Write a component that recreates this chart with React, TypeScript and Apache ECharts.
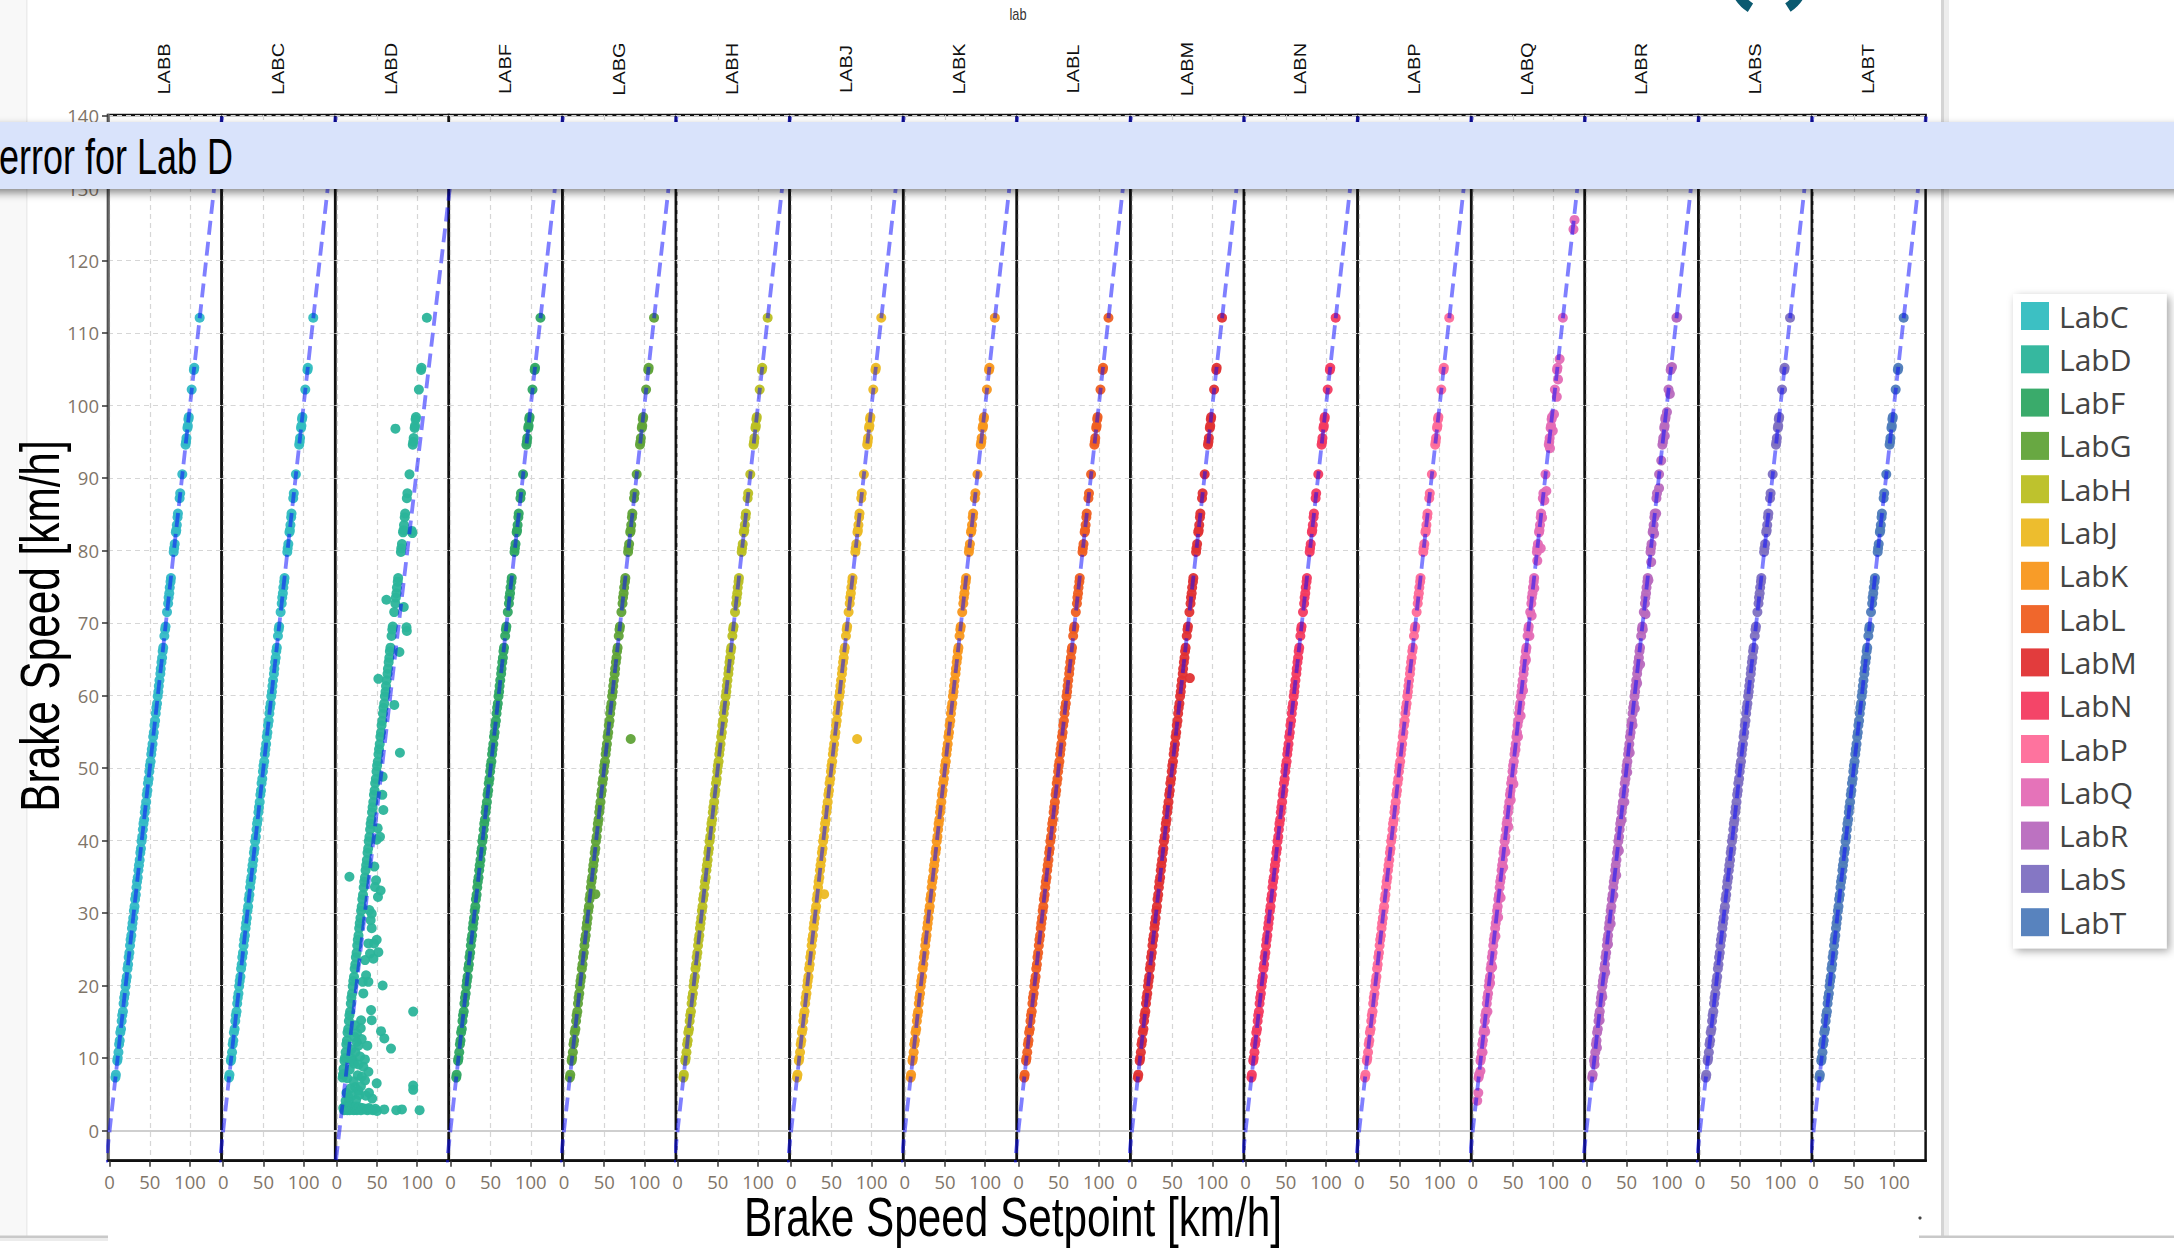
import React, { useEffect, useRef } from "react";
import * as echarts from "echarts";

// ---------- data ----------
const FACET_LABELS = ["LABB", "LABC", "LABD", "LABF", "LABG", "LABH", "LABJ", "LABK", "LABL", "LABM", "LABN", "LABP", "LABQ", "LABR", "LABS", "LABT"];
const LAB_NAMES = ["LabB", "LabC", "LabD", "LabF", "LabG", "LabH", "LabJ", "LabK", "LabL", "LabM", "LabN", "LabP", "LabQ", "LabR", "LabS", "LabT"];
const LEGEND_LABS = ["LabC", "LabD", "LabF", "LabG", "LabH", "LabJ", "LabK", "LabL", "LabM", "LabN", "LabP", "LabQ", "LabR", "LabS", "LabT"];
const LAB_COLORS = ["#33b9c6", "#31bdc0", "#2bb49a", "#2fa663", "#60a338", "#bbbf22", "#ecb923", "#f8971c", "#ef5f21", "#e03233", "#f33b60", "#fe6c99", "#e46cb5", "#b86abe", "#7e70c1", "#4f7cba"];

const X_TICKS = [0, 50, 100];
const Y_TICKS = [0, 10, 20, 30, 40, 50, 60, 70, 80, 90, 100, 110, 120, 130, 140];
const X_RANGE = [-2, 139.3];
const Y_RANGE = [-4.17, 140.07];

// [setpoint, measured speed] read along the band shared by the labs
const BASE_POINTS = [
  [7.2, 7.3], [7.8, 7.7], [9.5, 9.6], [10.1, 10.0], [11.0, 10.8], [11.8, 11.9], [12.6, 12.4], [13.3, 13.5], [14.2, 14.0], [15.0, 15.1],
  [15.7, 15.9], [16.6, 16.4], [17.4, 17.5], [18.1, 18.3], [19.0, 18.9], [19.8, 19.9], [20.5, 20.6], [21.4, 21.2], [22.2, 22.3], [23.0, 22.9],
  [23.7, 23.9], [24.6, 24.5], [25.4, 25.5], [26.1, 26.3], [27.0, 26.9], [27.8, 27.9], [28.5, 28.6], [29.4, 29.3], [30.2, 30.3], [31.0, 30.9],
  [31.7, 31.9], [32.6, 32.5], [33.4, 33.5], [34.1, 34.3], [35.0, 34.9], [35.8, 35.9], [36.5, 36.6], [37.4, 37.3], [38.2, 38.3], [39.0, 38.9],
  [39.7, 39.9], [40.6, 40.5], [41.4, 41.5], [42.1, 42.3], [43.0, 42.9], [43.8, 43.9], [44.5, 44.6], [45.4, 45.3], [46.2, 46.3], [47.0, 46.9],
  [47.7, 47.9], [48.6, 48.5], [49.4, 49.5], [50.1, 50.3], [51.0, 50.9], [51.8, 51.9], [52.5, 52.6], [53.4, 53.3], [54.2, 54.3], [55.0, 54.9],
  [55.7, 55.9], [56.6, 56.5], [57.4, 57.5], [58.1, 58.3], [59.0, 58.9], [59.8, 59.9], [60.6, 60.5], [61.2, 61.3], [62.0, 62.1], [63.1, 63.0],
  [63.6, 63.7], [64.5, 64.6], [65.3, 65.2], [66.0, 66.1], [66.7, 66.6], [68.1, 68.2], [69.0, 69.1], [69.6, 69.5], [71.4, 71.5], [72.8, 72.7],
  [73.4, 73.5], [74.2, 74.1], [74.8, 74.9], [75.8, 75.7], [76.3, 76.2], [79.7, 79.8], [80.2, 80.3], [81.0, 80.9], [82.4, 82.5], [82.9, 82.8],
  [83.6, 83.5], [84.5, 84.6], [85.0, 85.1], [87.1, 87.2], [87.8, 87.9], [90.4, 90.5], [94.5, 94.6], [95.1, 95.0], [95.6, 95.5], [96.8, 96.9],
  [97.3, 97.2], [98.0, 98.1], [98.5, 98.4], [102.1, 102.2], [104.8, 104.9], [105.3, 105.2], [112.0, 112.1]
];

// Lab D: readings
const LABD_SCATTER = [
  [72.9, 96.8], [93.3, 82.7], [94.0, 82.4], [61.7, 73.2], [83.3, 72.2], [86.7, 69.4], [87.1, 68.9], [77.9, 66.0], [51.7, 62.3],
  [71.5, 58.7], [78.5, 52.1], [57.0, 48.8], [56.6, 46.3], [57.9, 44.2], [50.8, 41.7], [53.7, 40.5], [49.6, 40.1], [46.7, 36.4],
  [15.7, 35.0], [48.8, 34.5], [47.5, 33.6], [54.5, 33.1], [51.2, 32.2], [40.5, 30.4], [43.4, 29.9], [42.1, 29.0], [43.4, 27.9],
  [39.3, 25.8], [46.3, 25.8], [49.6, 26.3], [51.7, 24.6], [41.3, 24.4], [45.5, 23.7], [35.1, 23.5], [36.4, 21.4], [39.3, 20.5],
  [32.2, 20.5], [33.0, 18.9], [57.0, 20.0], [42.6, 16.6], [95.0, 16.4], [43.4, 15.2], [30.2, 15.2], [29.8, 14.1], [22.7, 14.5],
  [55.0, 13.7], [59.1, 12.7], [24.8, 12.2], [26.9, 11.7], [38.0, 11.7], [67.4, 11.3], [18.6, 9.9], [21.5, 9.2], [33.0, 8.8],
  [39.3, 8.1], [31.0, 7.4], [49.6, 6.5], [95.0, 6.2], [95.0, 5.6], [35.1, 6.9], [22.7, 6.0], [26.9, 5.5], [8.3, 7.8], [8.3, 8.5],
  [12.0, 5.2], [14.5, 4.6], [17.0, 5.8], [19.0, 4.8], [21.0, 6.8], [24.0, 4.2], [26.0, 7.6], [28.0, 4.9], [30.0, 6.1], [13.0, 7.2],
  [16.0, 8.4], [20.0, 9.6], [23.0, 10.8], [27.0, 9.1], [31.0, 12.6], [25.0, 13.4], [18.0, 11.2], [22.0, 12.9], [29.0, 10.2],
  [35.0, 9.8], [11.0, 4.1], [15.0, 3.9], [40.0, 5.2], [44.0, 4.4], [36.0, 4.8]
];
// Lab D: readings stuck near 3 km/h
const LABD_FLOOR = [
  [8, 3.1], [9, 2.8], [10, 3.3], [11, 2.9], [12, 3.1], [13, 2.8], [14, 3.2], [15, 3.0], [16, 2.8], [17, 3.3], [18, 3.0], [19, 2.9],
  [20, 3.2], [21, 2.8], [22, 3.1], [23, 2.9], [24, 3.3], [25, 2.8], [26, 3.0], [28, 3.2], [30, 2.8], [32, 3.1], [34, 2.9], [36, 3.0],
  [38, 2.8], [40, 3.1], [42, 2.9], [45, 2.8], [48, 3.0], [50, 2.7], [59, 2.9], [74, 2.8], [81, 2.9], [103, 2.8]
];
const LABG_EXTRA = [[83, 54.0], [39, 32.6]];
const LABJ_EXTRA = [[82, 54.0], [41, 32.6]];
const LABM_EXTRA = [[72, 62.4]];
const LABQ_EXTRA = [
  [126.5, 125.6], [125.2, 124.3], [108, 106.4], [106, 103.6], [104.5, 101.2], [101, 98.8], [99.5, 96.5], [96, 94.1], [91.5, 88.2],
  [89, 86.9], [86.2, 84.5], [84.5, 80.3], [80.2, 78.6], [76.5, 74.8], [73.2, 71], [70.4, 68.2], [66.1, 64.9], [62.5, 60.7], [59.5, 57.2],
  [56.2, 54.3], [53.1, 52.5], [50.5, 47.8], [47.2, 45.6], [44.1, 41.9], [40.5, 38.4], [37.8, 36.3], [34.6, 32.1], [31.5, 29.4],
  [28.2, 26.8], [24.1, 22.5], [21.5, 20.3], [18.2, 16.4], [15.4, 13.6], [12.1, 10.8], [9.5, 8.2], [6.8, 5.2], [5.5, 4.1]
];
const LABR_EXTRA = [
  [113, 112.2], [106.5, 105.3], [103.8, 101.6], [100.2, 99.1], [97.5, 95.8], [93.1, 92.4], [90.4, 88.6], [86.8, 85.1], [84.2, 82.3],
  [80.6, 78.4], [77.1, 75.9], [73.5, 71.2], [70.2, 69.1], [66.8, 64.3], [63.1, 61.7], [60.3, 58.2], [57.4, 55.9], [53.9, 52.1],
  [50.8, 49.4], [47.2, 45.3], [43.6, 42.8], [40.4, 38.6], [37.1, 35.2], [33.5, 32.4], [30.2, 28.5], [26.9, 25.7], [23.4, 21.8],
  [19.8, 18.4], [16.5, 15.2], [13.1, 11.4], [10.2, 9.1]
];
// dashed trend lines: two end points each
const TREND_IDEAL = [[-6, -6], [146, 146]];
const TREND_LABD = [[-1, -4.08], [152, 140.8]];

function pointsFor(name: string): number[][] {
  switch (name) {
    case "LabD": return BASE_POINTS.concat(LABD_SCATTER, LABD_FLOOR);
    case "LabG": return BASE_POINTS.concat(LABG_EXTRA);
    case "LabJ": return BASE_POINTS.concat(LABJ_EXTRA);
    case "LabM": return BASE_POINTS.concat(LABM_EXTRA);
    case "LabQ": return BASE_POINTS.concat(LABQ_EXTRA);
    case "LabR": return BASE_POINTS.concat(LABR_EXTRA);
    default: return BASE_POINTS;
  }
}

// ---------- layout ----------
const W = 2174;
const H = 1249;
const PLOT_LEFT = 108;
const FACET_W = 113.6;
const PLOT_TOP = 115;
const PLOT_H = 1045.7;
const TICK_COLOR = "#7f7569";
const SANS = "'Liberation Sans', Arial, sans-serif";

export default function App() {
  const ref = useRef<HTMLDivElement>(null);

  useEffect(() => {
    if (!ref.current) return;
    const chart = echarts.init(ref.current, null, { renderer: "svg" });
    const n = FACET_LABELS.length;

    const grids: any[] = [];
    const xAxes: any[] = [];
    const yAxes: any[] = [];
    const series: any[] = [];
    const graphics: any[] = [];

    for (let i = 0; i < n; i++) {
      grids.push({
        left: PLOT_LEFT + i * FACET_W,
        top: PLOT_TOP,
        width: FACET_W,
        height: PLOT_H,
        show: true,
        borderColor: "#111",
        borderWidth: 2.5,
        backgroundColor: "transparent",
        outerBoundsMode: "none",
      });
      xAxes.push({
        gridIndex: i,
        type: "value",
        min: X_RANGE[0],
        max: X_RANGE[1],
        axisLine: { show: true, onZero: false, lineStyle: { color: "#111", width: 2.5 } },
        axisTick: { show: true, customValues: X_TICKS, length: 6, lineStyle: { color: "#333", width: 1.5 } },
        axisLabel: { show: true, customValues: X_TICKS, fontSize: 18.5, color: TICK_COLOR, fontFamily: "'Open Sans', sans-serif", margin: 11 },
        splitLine: { show: true, lineStyle: { type: [5, 4], color: "#d6d6d6", width: 1.2 } },
      });
      yAxes.push({
        gridIndex: i,
        type: "value",
        min: Y_RANGE[0],
        max: Y_RANGE[1],
        axisLine: { show: i === 0, onZero: false, lineStyle: { color: "#666", width: 2.5 } },
        axisTick: { show: i === 0, customValues: Y_TICKS, length: 6, lineStyle: { color: "#333", width: 1.5 } },
        axisLabel: { show: i === 0, customValues: Y_TICKS, fontSize: 18.5, color: TICK_COLOR, fontFamily: "'Open Sans', sans-serif", margin: 9 },
        splitLine: { show: true, lineStyle: { type: [5, 4], color: "#d6d6d6", width: 1.2 } },
      });
      series.push({
        type: "scatter",
        name: LAB_NAMES[i],
        xAxisIndex: i,
        yAxisIndex: i,
        data: pointsFor(LAB_NAMES[i]),
        symbol: "circle",
        symbolSize: 10,
        itemStyle: { color: LAB_COLORS[i], opacity: 0.95 },
        z: 2,
        markLine: {
          silent: true,
          symbol: "none",
          label: { show: false },
          lineStyle: { color: "#cfcfcf", width: 2, type: "solid" },
          data: [{ yAxis: 0 }],
        },
      });
      graphics.push({
        type: "text",
        x: PLOT_LEFT + (i + 0.5) * FACET_W,
        y: 69,
        rotation: Math.PI / 2,
        scaleX: 1.25,
        z: 50,
        style: {
          text: FACET_LABELS[i],
          fill: "#111",
          font: `16px ${SANS}`,
          align: "center",
          verticalAlign: "middle",
        },
      });
    }
    for (let i = 0; i < n; i++) {
      series.push({
        type: "line",
        name: "trend " + LAB_NAMES[i],
        xAxisIndex: i,
        yAxisIndex: i,
        data: LAB_NAMES[i] === "LabD" ? TREND_LABD : TREND_IDEAL,
        symbol: "none",
        showSymbol: false,
        silent: true,
        clip: true,
        lineStyle: { color: "rgba(10,10,255,0.52)", width: 3.8, type: [14, 7] },
        z: 5,
      });
    }

    // slide decorations
    graphics.push(
      { type: "rect", z: 0, shape: { x: 0, y: 0, width: 26, height: 1236 }, style: { fill: "#f8f8f8" } },
      { type: "rect", z: 0, shape: { x: 26, y: 0, width: 1.5, height: 1236 }, style: { fill: "#ececec" } },
      { type: "rect", z: 0, shape: { x: 1941, y: 0, width: 3, height: 1238 }, style: { fill: "#d4d4d4" } },
      { type: "rect", z: 0, shape: { x: 1944, y: 0, width: 5, height: 1238 }, style: { fill: "#ededed" } },
      { type: "rect", z: 0, shape: { x: 0, y: 1235.5, width: 108, height: 2.5 }, style: { fill: "#c9c9c9" } },
      { type: "rect", z: 0, shape: { x: 0, y: 1238, width: 108, height: 3 }, style: { fill: "#ececec" } },
      { type: "rect", z: 0, shape: { x: 1919, y: 1235.5, width: 255, height: 2.5 }, style: { fill: "#c9c9c9" } },
      { type: "circle", z: 10, shape: { cx: 1920, cy: 1218, r: 1.6 }, style: { fill: "#444" } },
      // logo fragment
      { type: "arc", z: 60, shape: { cx: 1769, cy: -22, r: 35, startAngle: 2.13, endAngle: 3.4, clockwise: true }, style: { stroke: "#0b5a70", lineWidth: 10, fill: "none" } },
      { type: "arc", z: 60, shape: { cx: 1769, cy: -22, r: 35, startAngle: -0.3, endAngle: 1.0, clockwise: true }, style: { stroke: "#0b5a70", lineWidth: 10, fill: "none" } },
      // facet title
      { type: "text", z: 50, x: 1018, y: 14, scaleX: 0.8, style: { text: "lab", fill: "#333", font: `16px ${SANS}`, align: "center", verticalAlign: "middle" } },
      // axis titles
      { type: "text", z: 50, x: 40, y: 626, rotation: Math.PI / 2, scaleX: 0.755, style: { text: "Brake Speed [km/h]", fill: "#000", font: `56px ${SANS}`, align: "center", verticalAlign: "middle" } },
      { type: "text", z: 50, x: 1013, y: 1217, scaleX: 0.755, style: { text: "Brake Speed Setpoint [km/h]", fill: "#000", font: `56px ${SANS}`, align: "center", verticalAlign: "middle" } },
      // banner
      {
        type: "rect", z: 100, shape: { x: -10, y: 122, width: W + 20, height: 67 },
        style: { fill: "#d9e3fb", shadowBlur: 8, shadowOffsetY: 4, shadowColor: "rgba(0,0,0,0.45)" },
      },
      { type: "text", z: 101, x: -1, y: 157, scaleX: 0.72, style: { text: "error for Lab D", fill: "#000", font: `50px ${SANS}`, align: "left", verticalAlign: "middle" } }
    );

    chart.setOption({
      animation: false,
      backgroundColor: "#fff",
      grid: grids,
      xAxis: xAxes,
      yAxis: yAxes,
      series,
      legend: {
        data: LEGEND_LABS,
        orient: "vertical",
        left: 2013,
        top: 294,
        padding: [7, 30, 11, 8],
        itemWidth: 28,
        itemHeight: 28,
        itemGap: 13.3,
        icon: "rect",
        selectedMode: false,
        backgroundColor: "#fff",
        shadowBlur: 8,
        shadowColor: "rgba(0,0,0,0.35)",
        shadowOffsetX: 3,
        shadowOffsetY: 3,
        textStyle: { fontSize: 30, color: "#444", fontFamily: "'Open Sans', sans-serif", padding: [0, 0, 0, 5] },
      },
      graphic: graphics,
    });

    return () => chart.dispose();
  }, []);

  return (
    <div
      ref={ref}
      style={{ position: "absolute", left: 0, top: 0, width: W, height: H, background: "#fff" }}
    />
  );
}
